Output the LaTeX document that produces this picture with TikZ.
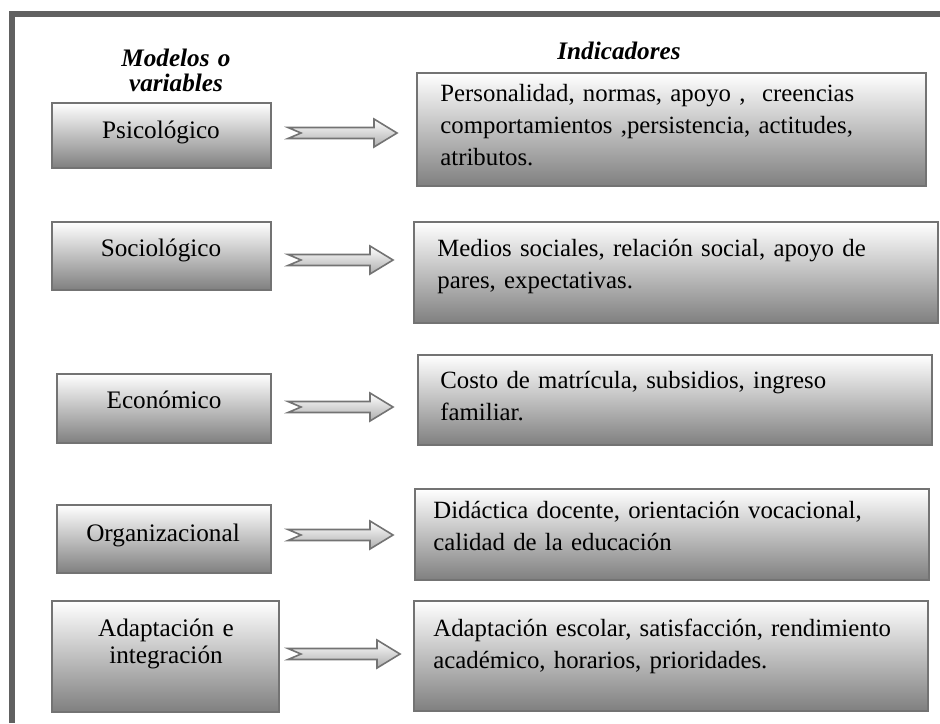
\documentclass[tikz,border=0pt]{standalone}
\usepackage{fontspec}
\setmainfont{Liberation Serif}
\usetikzlibrary{calc}

\tikzset{
    vbox/.style={draw=black!55, line width=1pt, top color=white, middle color=black!14, bottom color=black!50, inner sep=0pt},
    harrow/.style={draw=black!55, line width=0.8pt, top color=white, bottom color=black!32},
    lbl/.style={font=\fontsize{12.6pt}{13.5pt}\selectfont, align=center, text width=110pt, inner sep=0pt, anchor=base},
    itxt/.style={font=\fontsize{12.4pt}{16pt}\selectfont, align=left, text width=250pt, inner sep=0pt, anchor=base west},
    hdr/.style={font=\fontsize{12.6pt}{12.5pt}\selectfont\bfseries\itshape, align=center, text width=80pt, inner sep=0pt, anchor=base}
}
\newcommand{\hollowarrow}[2]{%
    \path[harrow] ($(#1)+(0,5.5)$) -- ($(#2)+(-23,5.5)$) -- ($(#2)+(-23,14)$) -- (#2)
        -- ($(#2)+(-23,-14)$) -- ($(#2)+(-23,-5.5)$) -- ($(#1)+(0,-5.5)$) -- ($(#1)+(13,0)$) -- cycle;}

\begin{document}
\begin{tikzpicture}[x=0.5pt,y=-0.5pt]
        \useasboundingbox (0,0) rectangle (940,723);
        %% frame
        \draw[black!62, line width=3pt] (940,13.5) -- (11.5,13.5) -- (11.5,723);
        %% headings
        \node[hdr] (hm) at (176,66) {Modelos o\\variables};
        \node[hdr] (hi) at (619,59) {Indicadores};
        %% models
        \node[vbox, minimum width=109.5pt, minimum height=32.5pt] (m1) at (161.5,135.5) {};
        \node[vbox, minimum width=109.5pt, minimum height=34pt] (m2) at (161.5,256) {};
        \node[vbox, minimum width=107pt, minimum height=34.5pt] (m3) at (164,408.5) {};
        \node[vbox, minimum width=107pt, minimum height=34pt] (m4) at (164,539) {};
        \node[vbox, minimum width=113.5pt, minimum height=55.5pt] (m5) at (165.5,656.5) {};
        \node[lbl] (t1) at (161,138) {Psicológico};
        \node[lbl] (t2) at (161,256) {Sociológico};
        \node[lbl] (t3) at (164,408) {Económico};
        \node[lbl] (t4) at (163,541) {Organizacional};
        \node[lbl] (t5) at (166,636) {Adaptación e\\integración};
        %% indicators
        \node[vbox, minimum width=254.5pt, minimum height=56.5pt] (i1) at (671.5,129.5) {};
        \node[vbox, minimum width=262pt, minimum height=50.5pt] (i2) at (676,272.5) {};
        \node[vbox, minimum width=257pt, minimum height=45pt] (i3) at (675,400) {};
        \node[vbox, minimum width=257pt, minimum height=45.5pt] (i4) at (672,534.5) {};
        \node[vbox, minimum width=257pt, minimum height=55pt] (i5) at (671,656) {};
        \node[itxt] (u1) at (440,101) {Personalidad, normas, apoyo ,\ \ creencias\\comportamientos ,persistencia, actitudes,\\atributos.};
        \node[itxt] (u2) at (437,256) {Medios sociales, relación social, apoyo de\\pares, expectativas.};
        \node[itxt] (u3) at (440,388) {Costo de matrícula, subsidios, ingreso\\familiar.};
        \node[itxt] (u4) at (433,518) {Didáctica docente, orientación vocacional,\\calidad de la educación};
        \node[itxt] (u5) at (433,636) {Adaptación escolar, satisfacción, rendimiento\\académico, horarios, prioridades.};
        %% arrows
        \foreach \n/\y/\e in {1/133/397,2/260/393,3/407/393,4/535/393,5/654/400} {
            \coordinate (s\n) at (288,\y);
            \coordinate (e\n) at (\e,\y);
            \hollowarrow{s\n}{e\n}
        }
    \end{tikzpicture}
\end{document}
